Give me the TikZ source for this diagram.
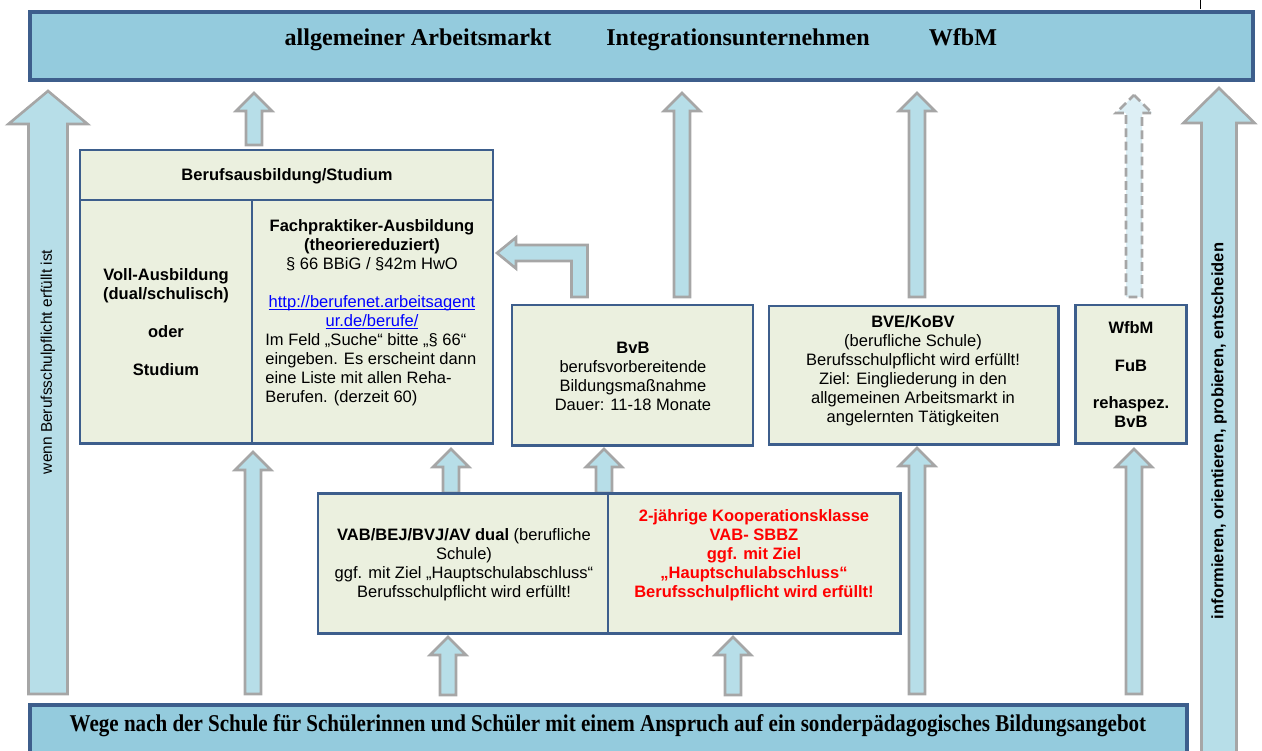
\documentclass[tikz,border=0pt]{standalone}
\usepackage{fontspec}
\setmainfont{Liberation Sans}
\newfontfamily\timesf{Liberation Serif}
\usetikzlibrary{fit}
\definecolor{barfill}{RGB}{148,203,221}
\definecolor{barline}{RGB}{61,94,140}
\definecolor{boxfill}{RGB}{235,240,223}
\definecolor{arrfill}{RGB}{183,222,232}
\definecolor{arrline}{RGB}{166,166,166}
\definecolor{arrlight}{RGB}{221,239,245}
\definecolor{linkblue}{RGB}{0,0,255}
\definecolor{redtxt}{RGB}{255,0,0}
\newcommand\linktxt[1]{\textcolor{linkblue}{\underline{\smash{#1}}}}
% #2 cx, #3 tip y, #4 bottom y, #5 shaft half width, #6 head half width, #7 head length
\newcommand\blockup[7][]{%
  \path[arr,#1] (#2,#3) -- ({#2+#6},{#3+#7}) -- ({#2+#5},{#3+#7}) -- ({#2+#5},#4)
    -- ({#2-#5},#4) -- ({#2-#5},{#3+#7}) -- ({#2-#6},{#3+#7}) -- cycle;}
\tikzset{
  arr/.style={fill=arrfill, draw=arrline, line width=1.5pt, line join=miter},
  dasharr/.style={fill=arrlight, dash pattern=on 5pt off 2.5pt},
  tbox/.style={draw=barline, fill=boxfill, line width=1.7pt, inner sep=0pt},
  tline/.style={draw=barline, line width=1.7pt},
  bar/.style={draw=barline, fill=barfill, line width=2.3pt, inner sep=0pt},
  txt/.style={font=\fontsize{9.4}{10.8}\selectfont, align=center, inner sep=0pt},
  txtb/.style={txt, font=\fontsize{9.4}{10.8}\selectfont\bfseries},
  ttl/.style={font=\timesf\fontsize{13.7}{16}\selectfont\bfseries, inner sep=0pt, anchor=base},
}
\begin{document}
\begin{tikzpicture}[x=0.02cm, y=-0.02cm]
\useasboundingbox (0,0) rectangle (1262,751);
\clip (0,0) rectangle (1262,751);

% top bar
\node[bar, fit={(30,12) (1253,80)}] (top) {};
\node[ttl] (t1) at (418,45) {allgemeiner Arbeitsmarkt};
\node[ttl] (t2) at (738,45) {Integrationsunternehmen};
\node[ttl] (t3) at (963,45) {WfbM};
\draw[line width=0.5pt] (1200,0) -- (1200,9);

% big side arrows
\blockup{48}{91}{694}{19.5}{39.5}{33}
\node[txt, font=\fontsize{8.8}{10.8}\selectfont, rotate=90] (lt) at (48,362) {wenn Berufsschulpflicht erfüllt ist};
\blockup{1219}{88}{780}{17.5}{35.5}{35}
\node[txtb, rotate=90] (rt) at (1219,431) {informieren, orientieren, probieren, entscheiden};

% upward arrows to the top bar
\blockup{254}{93}{145}{8}{18}{18}
\blockup{682}{93}{297}{8}{18}{18}
\blockup{917}{93}{297}{8}{18}{18}
\blockup[dasharr]{1134}{95}{297}{8}{18}{18}
% elbow arrow
\path[arr] (571.5,297) -- (571.5,261) -- (516,261) -- (516,268.5) -- (497,253)
  -- (516,237.5) -- (516,245) -- (587.5,245) -- (587.5,297) -- cycle;

% arrows between levels
\blockup{253}{452}{694}{8}{18}{18}
\blockup{451}{449}{493}{8}{18}{18}
\blockup{604}{449}{493}{8}{18}{18}
\blockup{917}{448}{694}{8}{18}{18}
\blockup{1134}{449}{694}{8}{18}{18}
\blockup{448}{637}{695}{8}{18}{18}
\blockup{733}{637}{695}{8}{18}{18}

% Berufsausbildung / Studium
\node[tbox, fit={(80,150) (493,443)}] (beruf) {};
\draw[tline] (80,200) -- (493,200);
\draw[tline] (252,200) -- (252,443);
\node[txtb] (bh) at (287,176) {Berufsausbildung/Studium};
\node[txtb] (voll) at (166,322) {Voll-Ausbildung\\(dual/schulisch)\\[10.8pt]oder\\[10.8pt]Studium};
\node[txt] (fach) at (372,274.5) {{\bfseries Fachpraktiker-Ausbildung}\\{\bfseries (theoriereduziert)}\\§ 66 BBiG / §42m HwO\\[10.8pt]\linktxt{http://berufenet.arbeitsagent}\\\linktxt{ur.de/berufe/}};
\node[txt, align=left, anchor=west] (feld) at (265,370) {Im Feld „Suche“ bitte „§ 66“\\eingeben. Es erscheint dann\\eine Liste mit allen Reha-\\Berufen. (derzeit 60)};

% middle boxes
\node[tbox, fit={(512,305) (753,445)}] (bvb) {};
\node[txt] (bvbt) at (633,376.5) {{\bfseries BvB}\\berufsvorbereitende\\Bildungsmaßnahme\\Dauer: 11-18 Monate};
\node[tbox, fit={(769,306) (1058,444)}] (bve) {};
\node[txt] (bvet) at (913,371) {{\bfseries BVE/KoBV}\\(berufliche Schule)\\Berufsschulpflicht wird erfüllt!\\Ziel: Eingliederung in den\\allgemeinen Arbeitsmarkt in\\angelernten Tätigkeiten};
\node[tbox, fit={(1075,305) (1186,443)}] (wfbm) {};
\node[txtb] (wfbmt) at (1131,374.5) {WfbM\\[10.8pt]FuB\\[10.8pt]rehaspez.\\BvB};

% VAB box
\node[tbox, fit={(318,493) (900,633)}] (vab) {};
\draw[tline] (608,493) -- (608,633);
\node[txt] (vabt) at (464,564.5) {{\bfseries VAB/BEJ/BVJ/AV dual} (berufliche\\Schule)\\ggf. mit Ziel „Hauptschulabschluss“\\Berufsschulpflicht wird erfüllt!};
\node[txtb, text=redtxt] (koop) at (754,555) {2-jährige Kooperationsklasse\\VAB- SBBZ\\ggf. mit Ziel\\„Hauptschulabschluss“\\Berufsschulpflicht wird erfüllt!};

% bottom bar
\node[bar, fit={(30,705) (1187,780)}] (bottom) {};
\node[ttl] (bt) at (608,731) {\scalebox{0.874}[1]{Wege nach der Schule für Schülerinnen und Schüler mit einem Anspruch auf ein sonderpädagogisches Bildungsangebot}};
\end{tikzpicture}
\end{document}
